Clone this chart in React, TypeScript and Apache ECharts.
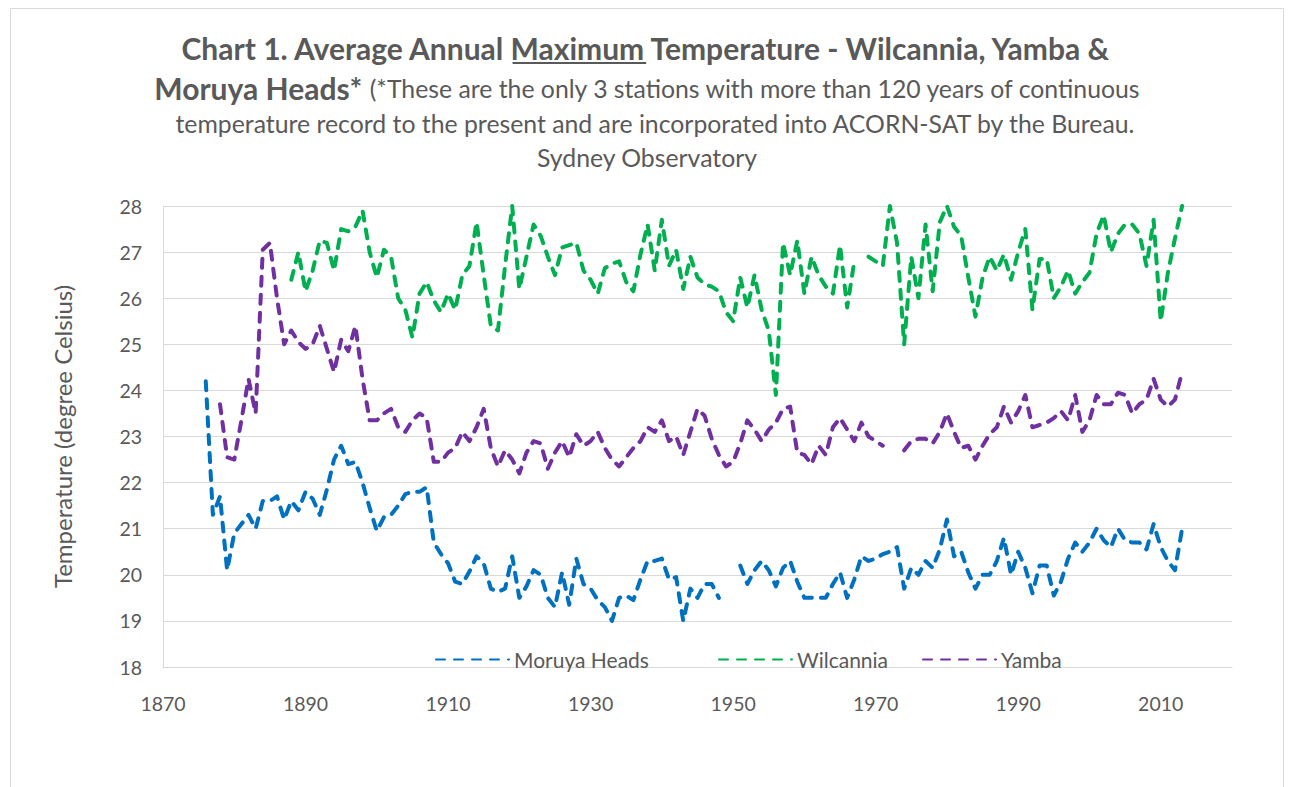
import React, { useEffect, useRef } from "react";
import * as echarts from "echarts";

const FONT = "Lato, 'Open Sans', sans-serif";
const TEXT_COLOR = "#595959";

const xTicks = [1870, 1890, 1910, 1930, 1950, 1970, 1990, 2010];

const moruyaStart = 1876;
const moruyaValues: (number | null)[] = [
  24.2, 21.3, 21.7, 20.1, 20.9, 21.1, 21.3, 21.0, 21.6, 21.6, // 1876-1885
  21.7, 21.2, 21.6, 21.4, 21.8, 21.65, 21.3, 21.85, 22.5, 22.8, // 1886-1895
  22.4, 22.45, 22.0, 21.45, 20.95, 21.25, 21.3, 21.5, 21.75, 21.8, // 1896-1905
  21.8, 21.9, 20.7, 20.45, 20.25, 19.85, 19.8, 20.07, 20.4, 20.25, // 1906-1915
  19.7, 19.63, 19.7, 20.4, 19.5, 19.75, 20.1, 20.0, 19.5, 19.3, // 1916-1925
  20.05, 19.35, 20.35, 19.8, 19.7, 19.45, 19.3, 19.0, 19.5, 19.55, // 1926-1935
  19.45, 19.9, 20.3, 20.3, 20.35, 19.9, 19.95, 19.0, 19.7, 19.5, // 1936-1945
  19.8, 19.8, 19.5, null, null, 20.2, 19.8, 20.1, 20.3, 20.1, // 1946-1955
  19.75, 20.15, 20.3, 19.85, 19.5, 19.5, 19.5, 19.5, 19.8, 20.05, // 1956-1965
  19.5, 19.9, 20.4, 20.3, 20.35, 20.45, 20.5, 20.6, 19.7, 20.15, // 1966-1975
  20.0, 20.3, 20.15, 20.55, 21.2, 20.4, 20.5, 20.05, 19.7, 20.0, // 1976-1985
  20.0, 20.3, 20.8, 20.0, 20.5, 20.15, 19.6, 20.2, 20.2, 19.55, // 1986-1995
  19.85, 20.35, 20.7, 20.5, 20.7, 21.0, 20.75, 20.6, 21.0, 20.75, // 1996-2005
  20.7, 20.7, 20.55, 21.1, 20.6, 20.3, 20.1, 21.0, // 2006-2013
];

const wilcanniaStart = 1888;
const wilcanniaValues: (number | null)[] = [
  26.4, 27.0, 26.15, 26.6, 27.25, 27.2, 26.6, 27.5, 27.45, 27.55, // 1888-1897
  27.9, 27.0, 26.45, 27.05, 26.9, 26.0, 25.75, 25.15, 26.1, 26.35, // 1898-1907
  25.95, 25.7, 26.1, 25.75, 26.5, 26.7, 27.65, 26.5, 25.4, 25.3, // 1908-1917
  26.7, 28.0, 26.2, 26.9, 27.6, 27.35, 26.9, 26.5, 27.1, 27.15, // 1918-1927
  27.2, 26.6, 26.4, 26.1, 26.65, 26.75, 26.8, 26.35, 26.15, 26.95, // 1928-1937
  27.6, 26.6, 27.7, 26.7, 27.05, 26.2, 26.9, 26.45, 26.3, 26.25, // 1938-1947
  26.15, 25.7, 25.5, 26.45, 25.8, 26.5, 25.75, 25.3, 23.9, 27.2, // 1948-1957
  26.5, 27.25, 26.1, 26.9, 26.5, 26.25, 26.1, 27.15, 25.8, 26.8, // 1958-1967
  null, 26.9, 26.8, 26.7, 28.0, 27.2, 25.0, 26.9, 26.0, 27.6, // 1968-1977
  26.15, 27.65, 28.0, 27.55, 27.35, 26.45, 25.6, 26.45, 26.9, 26.6, // 1978-1987
  26.95, 26.4, 27.0, 27.5, 25.75, 26.85, 26.85, 26.0, 26.25, 26.6, // 1988-1997
  26.1, 26.35, 26.55, 27.4, 27.8, 27.0, 27.4, 27.6, 27.6, 27.4, // 1998-2007
  26.7, 27.7, 25.5, 26.55, 27.3, 28.0, // 2008-2013
];

const yambaStart = 1878;
const yambaValues: (number | null)[] = [
  23.7, 22.55, 22.5, 23.35, 24.25, 23.5, 27.05, 27.2, 26.0, 25.0, // 1878-1887
  25.3, 25.05, 24.9, 25.0, 25.4, 24.9, 24.4, 25.1, 24.85, 25.4, // 1888-1897
  24.25, 23.35, 23.35, 23.5, 23.6, 23.2, 23.1, 23.35, 23.5, 23.4, // 1898-1907
  22.45, 22.45, 22.65, 22.75, 23.1, 22.9, 23.2, 23.6, 22.75, 22.35, // 1908-1917
  22.7, 22.5, 22.2, 22.65, 22.9, 22.85, 22.3, 22.65, 22.9, 22.55, // 1918-1927
  23.05, 22.8, 22.9, 23.1, 22.75, 22.5, 22.35, 22.55, 22.75, 22.9, // 1928-1937
  23.2, 23.1, 23.35, 22.9, 23.0, 22.6, 23.1, 23.6, 23.45, 22.95, // 1938-1947
  22.6, 22.35, 22.45, 22.85, 23.35, 23.15, 22.9, 23.15, 23.3, 23.6, // 1948-1957
  23.65, 22.65, 22.6, 22.4, 22.8, 22.6, 23.2, 23.4, 23.15, 22.9, // 1958-1967
  23.3, 23.0, 22.9, 22.8, null, null, 22.7, 22.9, 22.95, 22.95, // 1968-1977
  22.85, 23.1, 23.5, 23.1, 22.75, 22.8, 22.5, 22.8, 23.05, 23.2, // 1978-1987
  23.65, 23.3, 23.55, 23.9, 23.2, 23.25, 23.3, 23.4, 23.55, 23.35, // 1988-1997
  23.9, 23.1, 23.35, 23.9, 23.7, 23.7, 23.95, 23.9, 23.5, 23.7, // 1998-2007
  23.8, 24.25, 23.8, 23.65, 23.8, 24.4, // 2008-2013
];

const seriesNames = ["Moruya Heads", "Wilcannia", "Yamba"];
const seriesColors = ["#0070C0", "#00B050", "#7030A0"];

const titleLine1Prefix = "Chart 1. Average Annual ";
const titleLine1Underlined = "Maximum";
const titleLine1Suffix = " Temperature - Wilcannia, Yamba &";
const titleLine2Bold = "Moruya Heads*";
const titleLine2Normal = " (*These are the only 3 stations with more than 120 years of continuous";
const titleLine3 = "temperature record to the present and are incorporated into ACORN-SAT by the Bureau.";
const titleLine4 = "Sydney Observatory";
const yAxisName = "Temperature (degree Celsius)";

function toPairs(start: number, values: (number | null)[]) {
  return values.map((v, i) => [start + i, v]);
}

function measure(text: string, font: string) {
  const c = document.createElement("canvas").getContext("2d");
  if (!c) return text.length * 10;
  c.font = font;
  return c.measureText(text).width;
}

export default function App() {
  const ref = useRef<HTMLDivElement>(null);
  useEffect(() => {
    if (!ref.current) return;
    const chart = echarts.init(ref.current, undefined, { renderer: "svg" });

    const t1Size = 30;
    const t1Font = `bold ${t1Size}px Lato`;
    const normFont = "24.8px Lato";
    const fullLine1 = titleLine1Prefix + titleLine1Underlined + titleLine1Suffix;
    const w1 = measure(fullLine1, t1Font);
    const x1 = 647.5 - w1 / 2;
    const uStart = x1 + measure(titleLine1Prefix, t1Font);
    const uEnd = x1 + measure(titleLine1Prefix + titleLine1Underlined, t1Font);
    const t1y = 48;

    const raw = [
      toPairs(moruyaStart, moruyaValues),
      toPairs(wilcanniaStart, wilcanniaValues),
      toPairs(yambaStart, yambaValues),
    ];

    const legendLefts = [430, 713, 917];

    chart.setOption({
      animation: false,
      backgroundColor: "#ffffff",
      grid: { left: 163, top: 206, right: 58, bottom: 120 },
      xAxis: {
        type: "value",
        min: xTicks[0],
        max: 2020,
        interval: 20,
        splitLine: { show: false },
        axisLine: { show: true, lineStyle: { color: "#d9d9d9", width: 1 } },
        axisTick: { show: false },
        axisLabel: {
          color: TEXT_COLOR,
          fontSize: 19.5,
          fontFamily: FONT,
          margin: 26,
          showMaxLabel: false,
          formatter: (v: number) => (xTicks.includes(v) ? String(v) : ""),
        },
      },
      yAxis: {
        type: "value",
        min: 18,
        max: 28,
        interval: 1,
        axisLine: { show: true, lineStyle: { color: "#d9d9d9", width: 1 } },
        axisTick: { show: false },
        splitLine: { show: true, lineStyle: { color: "#d9d9d9", width: 1 } },
        axisLabel: { color: TEXT_COLOR, fontSize: 19.5, fontFamily: FONT, margin: 21 },
        name: yAxisName,
        nameLocation: "middle",
        nameGap: 89,
        nameTextStyle: { color: TEXT_COLOR, fontSize: 24, fontFamily: FONT },
      },
      legend: seriesNames.map((name, i) => ({
        left: legendLefts[i],
        top: 644,
        itemWidth: 73,
        itemHeight: 14,
        data: [name],
        itemStyle: { opacity: 0 },
        textStyle: { color: TEXT_COLOR, fontSize: 21, fontFamily: FONT },
      })),
      series: seriesNames.map((name, i) => ({
        name,
        type: "line",
        data: raw[i],
        symbol: "none",
        connectNulls: false,
        lineStyle: { color: seriesColors[i], width: 4, type: [9, 9], cap: "round", join: "round" },
        itemStyle: { color: seriesColors[i] },
      })),
      graphic: [
        {
          type: "rect",
          shape: { x: 10.5, y: 8.5, width: 1273, height: 800 },
          style: { fill: "none", stroke: "#d9d9d9", lineWidth: 1 },
          silent: true,
        },
        {
          type: "text",
          x: x1,
          y: t1y,
          style: {
            text: fullLine1,
            font: t1Font,
            fill: TEXT_COLOR,
            textAlign: "left",
            textVerticalAlign: "middle",
          },
        },
        {
          type: "line",
          shape: { x1: uStart, y1: t1y + 15, x2: uEnd, y2: t1y + 15 },
          style: { stroke: TEXT_COLOR, lineWidth: 2 },
        },
        {
          type: "text",
          x: 647.5,
          y: 88,
          style: {
            text: `{b|${titleLine2Bold}}{n|${titleLine2Normal}}`,
            textAlign: "center",
            textVerticalAlign: "middle",
            rich: {
              b: { font: `bold ${t1Size}px Lato`, fill: TEXT_COLOR },
              n: { font: normFont, fill: TEXT_COLOR },
            },
          },
        },
        {
          type: "text",
          x: 655,
          y: 123,
          style: {
            text: titleLine3,
            font: normFont,
            fill: TEXT_COLOR,
            textAlign: "center",
            textVerticalAlign: "middle",
          },
        },
        {
          type: "text",
          x: 647,
          y: 157,
          style: {
            text: titleLine4,
            font: normFont,
            fill: TEXT_COLOR,
            textAlign: "center",
            textVerticalAlign: "middle",
          },
        },
      ],
    });
    return () => chart.dispose();
  }, []);
  return (
    <div
      ref={ref}
      style={{ position: "absolute", left: 0, top: 0, width: 1290, height: 787 }}
    />
  );
}
